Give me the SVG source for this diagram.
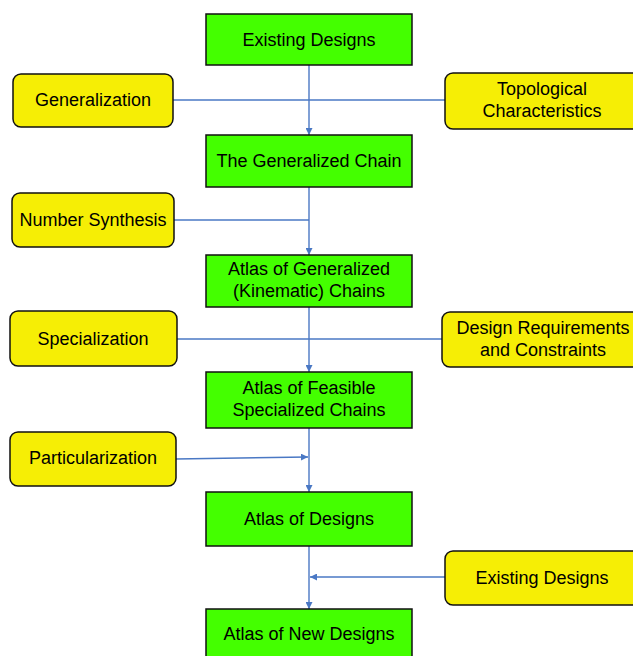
<svg xmlns="http://www.w3.org/2000/svg" width="633" height="656" viewBox="0 0 633 656">
<style>
.g{fill:#44FF00;stroke:#111;stroke-width:1.5}
.y{fill:#F6EE05;stroke:#111;stroke-width:1.5}
text{font-family:"Liberation Sans",Arial,sans-serif;font-size:18px;fill:#000;text-anchor:middle}
.c{stroke:#4A78C4;stroke-width:1.4;fill:none}
</style>
<defs>
<marker id="a" viewBox="0 0 10 10" refX="10" refY="5" markerWidth="7" markerHeight="7" markerUnits="userSpaceOnUse" orient="auto">
<path d="M0,0 L10,5 L0,10 Z" fill="#4A78C4"/>
</marker>
</defs>
<g id="connectors">
<line class="c" x1="173" y1="100" x2="445" y2="100"/>
<line class="c" x1="174" y1="220" x2="309" y2="220"/>
<line class="c" x1="177" y1="339" x2="442" y2="339"/>
<line class="c" x1="176" y1="459" x2="308" y2="457" marker-end="url(#a)"/>
<line class="c" x1="445" y1="577" x2="310" y2="577" marker-end="url(#a)"/>
<line class="c" x1="309" y1="65" x2="309" y2="135" marker-end="url(#a)"/>
<line class="c" x1="309" y1="187" x2="309" y2="255" marker-end="url(#a)"/>
<line class="c" x1="309" y1="307" x2="309" y2="372" marker-end="url(#a)"/>
<line class="c" x1="309" y1="428" x2="309" y2="492" marker-end="url(#a)"/>
<line class="c" x1="309" y1="546" x2="309" y2="609" marker-end="url(#a)"/>
</g>
<g id="n1"><rect class="g" x="206" y="14" width="206" height="51"/><text x="309" y="46">Existing Designs</text></g>
<g id="n2"><rect class="g" x="206" y="135" width="206" height="52"/><text x="309" y="167">The Generalized Chain</text></g>
<g id="n3"><rect class="g" x="206" y="255" width="206" height="52"/><text x="309" y="275">Atlas of Generalized</text><text x="309" y="297">(Kinematic) Chains</text></g>
<g id="n4"><rect class="g" x="206" y="372" width="206" height="56"/><text x="309" y="394">Atlas of Feasible</text><text x="309" y="416">Specialized Chains</text></g>
<g id="n5"><rect class="g" x="206" y="492" width="206" height="54"/><text x="309" y="525">Atlas of Designs</text></g>
<g id="n6"><rect class="g" x="206" y="609" width="206" height="52"/><text x="309" y="640">Atlas of New Designs</text></g>
<g id="y1"><rect class="y" x="13" y="74" width="160" height="53" rx="8"/><text x="93" y="106">Generalization</text></g>
<g id="y2"><rect class="y" x="445" y="73" width="200" height="56" rx="8"/><text x="542" y="95">Topological</text><text x="542" y="117">Characteristics</text></g>
<g id="y3"><rect class="y" x="12" y="193" width="162" height="54" rx="8"/><text x="93" y="226">Number Synthesis</text></g>
<g id="y4"><rect class="y" x="10" y="311" width="167" height="55" rx="8"/><text x="93" y="345">Specialization</text></g>
<g id="y5"><rect class="y" x="442" y="312" width="203" height="55" rx="8"/><text x="543" y="334">Design Requirements</text><text x="543" y="356">and Constraints</text></g>
<g id="y6"><rect class="y" x="10" y="432" width="166" height="54" rx="8"/><text x="93" y="464">Particularization</text></g>
<g id="y7"><rect class="y" x="445" y="551" width="200" height="54" rx="8"/><text x="542" y="584">Existing Designs</text></g>
</svg>
